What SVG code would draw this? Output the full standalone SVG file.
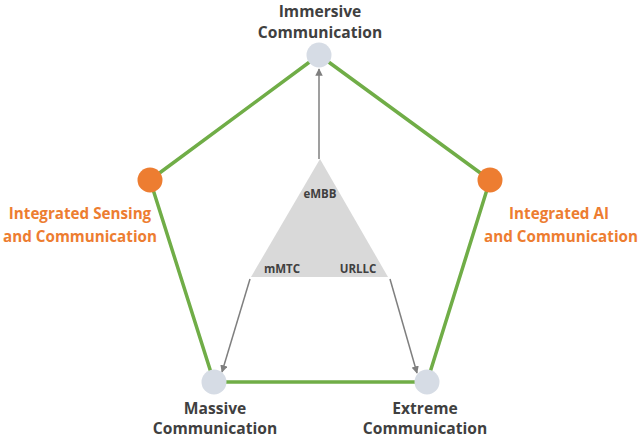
<svg xmlns="http://www.w3.org/2000/svg" width="640" height="439" viewBox="0 0 640 439">
<defs>
<style>
.lbl{font-family:"Open Sans","Liberation Sans",sans-serif;font-weight:bold;fill:#404040;text-anchor:middle}
.big{font-size:15.6px}
.org{font-family:"Open Sans","Liberation Sans",sans-serif;font-weight:bold;fill:#ED7D31;text-anchor:middle;font-size:15.2px}
.sm{font-size:11.5px}
.edge{stroke:#70AD47;stroke-width:3.5;fill:none}
.arr{stroke:#7F7F7F;stroke-width:1.5;fill:none;marker-end:url(#ah)}
.gray{fill:#D6DCE5}
.orange{fill:#ED7D31}
</style>
<marker id="ah" viewBox="0 0 10 10" refX="9" refY="5" markerWidth="5" markerHeight="5" orient="auto" markerUnits="strokeWidth">
<path d="M0,0 L10,5 L0,10 z" fill="#7F7F7F"/>
</marker>
</defs>
<g id="connectors">
<polygon class="edge" points="319,55 490,180 427,382 214,382 150,180"/>
<line class="arr" x1="319" y1="159" x2="319" y2="69"/>
<line class="arr" x1="250" y1="279" x2="222" y2="372"/>
<line class="arr" x1="390" y1="279" x2="417" y2="373"/>
</g>
<g id="triangle">
<polygon points="320,159 251,277 388,277" fill="#D9D9D9"/>
<text class="lbl sm" x="320" y="198">eMBB</text>
<text class="lbl sm" x="282" y="273">mMTC</text>
<text class="lbl sm" x="358" y="273">URLLC</text>
</g>
<g id="immersive">
<circle class="gray" cx="319" cy="55" r="12.5"/>
<text class="lbl big" x="320" y="17">Immersive</text>
<text class="lbl big" x="320" y="38">Communication</text>
</g>
<g id="isac">
<circle class="orange" cx="150" cy="180" r="12.5"/>
<text class="org" x="80" y="219">Integrated Sensing</text>
<text class="org" x="80" y="242">and Communication</text>
</g>
<g id="iaac">
<circle class="orange" cx="490" cy="180" r="12.5"/>
<text class="org" x="559" y="219">Integrated AI</text>
<text class="org" x="561" y="242">and Communication</text>
</g>
<g id="massive">
<circle class="gray" cx="214" cy="382" r="12.5"/>
<text class="lbl big" x="215" y="414">Massive</text>
<text class="lbl big" x="215" y="434">Communication</text>
</g>
<g id="extreme">
<circle class="gray" cx="427" cy="382" r="12.5"/>
<text class="lbl big" x="425" y="414">Extreme</text>
<text class="lbl big" x="425" y="434">Communication</text>
</g>
</svg>
